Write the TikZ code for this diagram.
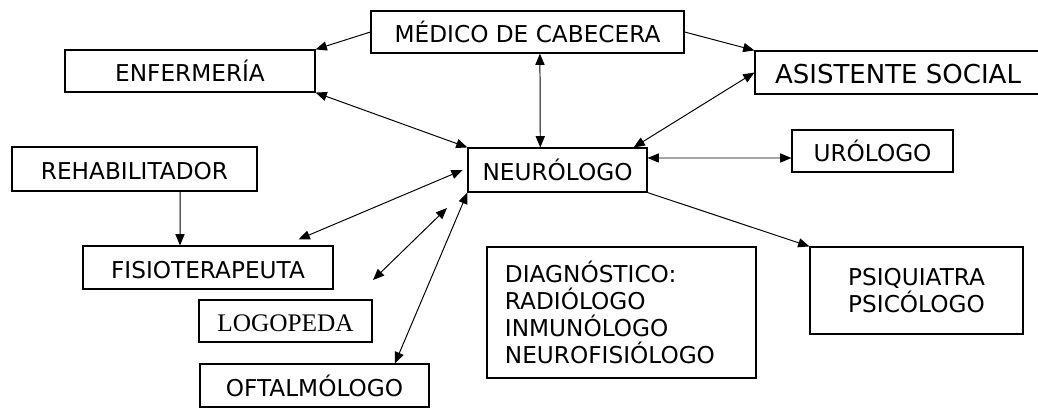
\documentclass[tikz,border=0pt]{standalone}
\usepackage{fontspec}
\setmainfont{DejaVu Sans}
\newfontfamily\tiempos{Liberation Serif}
\usetikzlibrary{arrows.meta}

\begin{document}
\begin{tikzpicture}[x=0.025cm, y=0.025cm, >={Triangle[length=8pt,width=6.5pt]},
  caja/.style={draw, line width=0.8pt, inner sep=0pt, font=\fontsize{16.5}{19.2}\selectfont},
  linea/.style={caja, text height=16pt, text depth=0.4pt},
  flecha/.style={line width=0.7pt}]
\useasboundingbox (0,0) rectangle (1038,408);
% cajas
\node[linea, minimum width=7.825cm, minimum height=1.05cm] (medico) at (527.5,376) {MÉDICO DE CABECERA};
\node[linea, minimum width=6.25cm, minimum height=1.05cm] (enfer) at (190,337) {ENFERMERÍA};
\node[linea, minimum width=7.15cm, minimum height=1.075cm, font=\fontsize{18.5}{21}\selectfont] (asist) at (898,335.5) {ASISTENTE SOCIAL};
\node[linea, minimum width=4.025cm, minimum height=1.05cm] (uro) at (872.5,257) {URÓLOGO};
\node[linea, minimum width=4.475cm, minimum height=1.1cm] (neuro) at (557.5,238) {NEURÓLOGO};
\node[linea, minimum width=6.125cm, minimum height=1.1cm] (rehab) at (134.5,239) {REHABILITADOR};
\node[linea, minimum width=6.25cm, minimum height=1.075cm] (fisio) at (208,140.5) {FISIOTERAPEUTA};
\node[linea, minimum width=4.325cm, minimum height=1.05cm, font=\tiempos\fontsize{18}{21}\selectfont] (logo) at (285.5,87) {LOGOPEDA};
\node[linea, minimum width=5.725cm, minimum height=1.075cm] (oftal) at (314.5,22.5) {OFTALMÓLOGO};
\node[caja, minimum width=6.725cm, minimum height=3.275cm, inner xsep=0.45cm, text width=5.825cm, align=left] (diag) at (621.5,95.5) {DIAGNÓSTICO:\\RADIÓLOGO\\INMUNÓLOGO\\NEUROFISIÓLOGO};
\node[caja, minimum width=5.325cm, minimum height=2.175cm, align=center] (psiq) at (916.5,117.5) {PSIQUIATRA\\PSICÓLOGO};

% flechas
\draw[flecha, ->] (medico.west) -- (enfer.north east);
\draw[flecha, ->] (medico.east) -- (asist.north west);
\draw[flecha, <->] ([xshift=-0.43cm]neuro.north) -- ([xshift=0.31cm]medico.south);
\draw[flecha, <->] (enfer.south east) -- (neuro.north west);
\draw[flecha, <->] (asist.west) -- ([xshift=-0.35cm]neuro.north east);
\draw[flecha, <->] ([yshift=0.3cm]neuro.east) -- ([yshift=-0.175cm]uro.west);
\draw[flecha, ->] (neuro.south east) -- (psiq.north west);
\draw[flecha, ->] ([xshift=1.14cm]rehab.south) -- ([xshift=-0.7cm]fisio.north);
\draw[flecha, <->] ([xshift=-0.875cm,yshift=0.15cm]fisio.north east) -- ([xshift=-0.12cm]neuro.west);
\coordinate (suelta1) at (373,128);
\coordinate (suelta2) at (447,200);
\draw[flecha, <->] (suelta1) -- (suelta2);
\draw[flecha, <->] (neuro.south west) -- ([xshift=2.01cm]oftal.north);
\end{tikzpicture}
\end{document}
